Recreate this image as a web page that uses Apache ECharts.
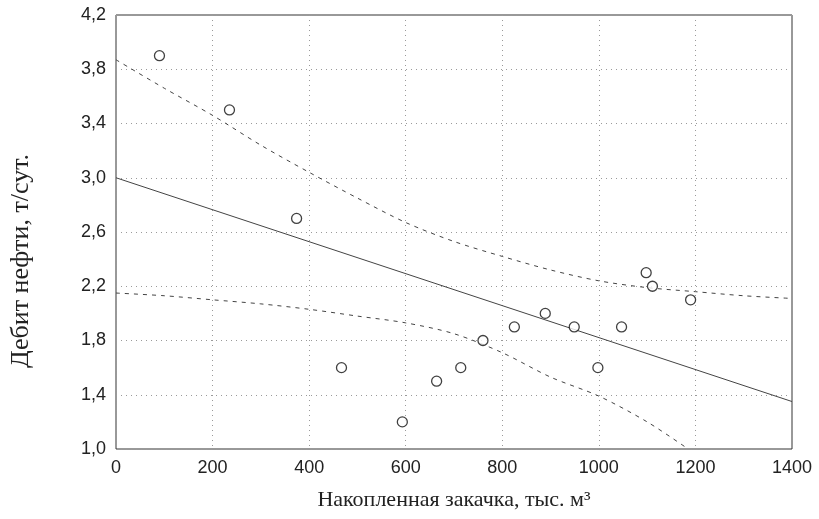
<!DOCTYPE html>
<html>
<head>
<meta charset="utf-8">
<script src="https://cdn.jsdelivr.net/npm/echarts@6/dist/echarts.min.js"></script>
<style>html,body{margin:0;padding:0;background:#fff}#c{width:819px;height:519px}</style>
</head>
<body>
<div id="c"></div>
<script>
// observed points
var pointsX = [90, 235, 374, 467, 593, 664, 714, 760, 825, 889, 949, 998, 1047, 1098, 1111, 1190];
var pointsY = [3.9, 3.5, 2.7, 1.6, 1.2, 1.5, 1.6, 1.8, 1.9, 2.0, 1.9, 1.6, 1.9, 2.3, 2.2, 2.1];
// regression line
var fitX = [0, 1400];
var fitY = [3.0, 1.35];
// confidence band (upper)
var upperX = [0, 100, 200, 300, 400, 500, 600, 700, 800, 900, 1000, 1100, 1200, 1300, 1400];
var upperY = [3.87, 3.66, 3.46, 3.24, 3.04, 2.85, 2.67, 2.53, 2.42, 2.32, 2.24, 2.19, 2.16, 2.13, 2.11];
// confidence band (lower)
var lowerX = [0, 100, 200, 300, 400, 500, 600, 700, 800, 900, 1000, 1100, 1185];
var lowerY = [2.15, 2.13, 2.10, 2.07, 2.03, 1.98, 1.93, 1.85, 1.71, 1.53, 1.39, 1.20, 1.0];
// axes
var xTicks = [0, 200, 400, 600, 800, 1000, 1200, 1400];
var yTicks = [1.0, 1.4, 1.8, 2.2, 2.6, 3.0, 3.4, 3.8, 4.2];
var xTitle = 'Накопленная закачка, тыс. м³';
var yTitle = 'Дебит нефти, т/сут.';

function zip(a, b) { return a.map(function (v, i) { return [v, b[i]]; }); }

var chart = echarts.init(document.getElementById('c'), null, { renderer: 'canvas' });
var gridLine = { show: true, lineStyle: { color: '#9a9a9a', type: [1, 4], width: 1 } };
chart.setOption({
  animation: false,
  backgroundColor: '#fff',
  grid: { left: 115, right: 27, top: 15, bottom: 70, show: true, borderColor: '#333', borderWidth: 1, backgroundColor: 'transparent' },
  xAxis: {
    type: 'value', min: xTicks[0], max: xTicks[xTicks.length - 1], interval: 200,
    axisLine: { show: false }, axisTick: { show: false },
    axisLabel: { color: '#222', fontFamily: 'Liberation Sans', fontSize: 18, margin: 10,
      formatter: function (v) { return String(v); } },
    splitLine: gridLine,
    name: xTitle, nameLocation: 'middle', nameGap: 40,
    nameTextStyle: { color: '#222', fontFamily: 'Liberation Serif', fontSize: 22 }
  },
  yAxis: {
    type: 'value', min: yTicks[0], max: yTicks[yTicks.length - 1], interval: 0.4,
    axisLine: { show: false }, axisTick: { show: false },
    axisLabel: { color: '#222', fontFamily: 'Liberation Sans', fontSize: 18, margin: 10,
      formatter: function (v) { return v.toFixed(1).replace('.', ','); } },
    splitLine: gridLine,
    name: yTitle, nameLocation: 'middle', nameGap: 82, nameRotate: 90,
    nameTextStyle: { color: '#222', fontFamily: 'Liberation Serif', fontSize: 26, padding: [0, 58, 0, 0] }
  },
  series: [
    { type: 'line', data: zip(fitX, fitY), symbol: 'none', lineStyle: { color: '#444', width: 1 }, z: 2 },
    { type: 'line', data: zip(upperX, upperY), symbol: 'none', smooth: 0.3, lineStyle: { color: '#444', width: 1, type: [4, 5] }, z: 2 },
    { type: 'line', data: zip(lowerX, lowerY), symbol: 'none', smooth: 0.3, lineStyle: { color: '#444', width: 1, type: [4, 5] }, z: 2 },
    { type: 'scatter', data: zip(pointsX, pointsY), symbol: 'circle', symbolSize: 10,
      itemStyle: { color: '#fff', borderColor: '#111', borderWidth: 1.3 }, z: 3 }
  ]
});
</script>
</body>
</html>
